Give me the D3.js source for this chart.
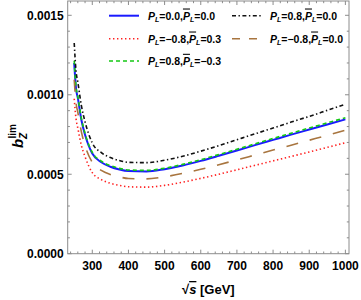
<!DOCTYPE html>
<html lang="en">
<head>
<meta charset="UTF-8">
<script src="https://cdn.jsdelivr.net/npm/d3@7"></script>
<style>
    body { margin: 0; background: white; }
    svg { display: block; font-family: "Liberation Sans", Arial, sans-serif; }
    .tick-label { font-size: 12px; font-weight: bold; fill: #000; }
    .leg { font-size: 10.5px; font-weight: bold; }
</style>
</head>
<body>
<div id="chart"></div>
<script>
    // sqrt(s) in GeV
    const energies = [250, 255, 260, 270, 280, 300, 325, 350, 375, 400, 450, 500, 550, 600, 650, 700, 750, 800, 850, 900, 950, 1000];

    // b_Z^lim for each beam polarisation
    const pol00   = [0.00120, 0.00104, 0.00098, 0.00084, 0.000748, 0.00063, 0.000575, 0.000547, 0.00053, 0.00052, 0.000517, 0.000532, 0.000555, 0.000584, 0.000616, 0.000649, 0.000683, 0.000716, 0.000749, 0.000781, 0.000813, 0.000845];
    const polM8P3 = [0.000975, 0.00085, 0.00079, 0.00068, 0.00061, 0.00051, 0.000466, 0.000443, 0.00043, 0.000421, 0.000419, 0.00043, 0.00045, 0.000474, 0.0005, 0.000528, 0.000556, 0.000584, 0.000612, 0.00064, 0.000669, 0.000698];
    const pol8M3  = [0.001215, 0.00105, 0.00099, 0.00085, 0.000757, 0.000638, 0.000582, 0.000554, 0.000537, 0.000527, 0.000524, 0.000538, 0.000562, 0.000591, 0.000624, 0.000657, 0.000691, 0.000725, 0.000758, 0.000791, 0.000823, 0.000856];
    const pol8P0  = [0.001326, 0.00115, 0.00108, 0.00093, 0.00083, 0.000697, 0.000636, 0.000605, 0.000586, 0.000575, 0.000573, 0.000588, 0.000613, 0.000645, 0.00068, 0.000717, 0.000754, 0.000791, 0.000828, 0.000864, 0.000902, 0.00094];
    const polM8P0 = [0.001095, 0.00095, 0.00089, 0.000765, 0.00068, 0.000575, 0.000524, 0.000498, 0.000483, 0.000473, 0.000471, 0.000484, 0.000505, 0.000531, 0.00056, 0.00059, 0.000621, 0.000652, 0.000683, 0.000714, 0.000745, 0.000777];

    const xTicks = [300, 400, 500, 600, 700, 800, 900, 1000];
    const yTicks = [0, 0.0005, 0.0010, 0.0015];

    const series = [
        { values: pol00,   pl: "0.0",  pbl: "0.0",  color: "#1a1aff", width: 2,   dash: null,          legDash: null,        col: 0, row: 0 },
        { values: polM8P3, pl: "\u22120.8", pbl: "0.3",  color: "#ff2020", width: 1.6, dash: "1.4,2.6",     legDash: "1.4,2.6",   col: 0, row: 1 },
        { values: pol8M3,  pl: "0.8",  pbl: "\u22120.3", color: "#14c814", width: 1.6, dash: "4,3",         legDash: "4,3",       col: 0, row: 2 },
        { values: pol8P0,  pl: "0.8",  pbl: "0.0",  color: "#111",    width: 1.6, dash: "4,2.5,1.4,2.5", legDash: "4,2.5,1.4,2.5", col: 1, row: 0 },
        { values: polM8P0, pl: "\u22120.8", pbl: "0.0",  color: "#a8753f", width: 1.6, dash: "12,12",       legDash: "8,9",       col: 1, row: 1 }
    ];

    const width = 361, height = 300;
    const margin = { top: 1, right: 12, bottom: 46.3, left: 67.7 };

    const svg = d3.select("#chart").append("svg")
        .attr("width", width)
        .attr("height", height);

    const x = d3.scaleLinear().domain([232, 1010]).range([margin.left, width - margin.right]);
    const y = d3.scaleLinear().domain([0, 0.00159]).range([height - margin.bottom, margin.top]);

    const x0 = x.range()[0], x1 = x.range()[1];
    const y0 = y.range()[0], y1 = y.range()[1];

    // ---- frame with inward ticks ----
    const frame = svg.append("g").attr("stroke", "#8c8c8c").attr("fill", "none");

    const xMinor = d3.range(240, 1010, 20);
    const yMinor = d3.range(0, 0.00159, 0.0001);

    xMinor.forEach(v => {
        const major = xTicks.includes(Math.round(v));
        const len = major ? 4 : 2.2;
        frame.append("line").attr("x1", x(v)).attr("x2", x(v)).attr("y1", y0).attr("y2", y0 - len);
        frame.append("line").attr("x1", x(v)).attr("x2", x(v)).attr("y1", y1).attr("y2", y1 + len);
    });
    yMinor.forEach((v, i) => {
        const major = i % 5 === 0;
        const len = major ? 4 : 2.2;
        frame.append("line").attr("x1", x0).attr("x2", x0 + len).attr("y1", y(v)).attr("y2", y(v));
        frame.append("line").attr("x1", x1).attr("x2", x1 - len).attr("y1", y(v)).attr("y2", y(v));
    });

    frame.append("rect")
        .attr("x", x0).attr("y", y1)
        .attr("width", x1 - x0).attr("height", y0 - y1)
        .attr("stroke-width", 1);

    // tick labels
    svg.selectAll(".xl").data(xTicks).enter().append("text")
        .attr("class", "tick-label")
        .attr("x", d => x(d))
        .attr("y", y0 + 16)
        .attr("text-anchor", "middle")
        .text(d => d);

    svg.selectAll(".yl").data(yTicks).enter().append("text")
        .attr("class", "tick-label")
        .attr("x", x0 - 4)
        .attr("y", d => y(d) + 4.3)
        .attr("text-anchor", "end")
        .text(d => d.toFixed(4));

    // ---- curves ----
    const line = d3.line()
        .x((d, i) => x(energies[i]))
        .y(d => y(d))
        .curve(d3.curveMonotoneX);

    series.forEach(s => {
        svg.append("path")
            .attr("d", line(s.values))
            .attr("fill", "none")
            .attr("stroke", s.color)
            .attr("stroke-width", s.width)
            .attr("stroke-dasharray", s.dash);
    });

    // ---- legend ----
    const legCols = [{ lx: 109, tx: 148 }, { lx: 232, tx: 270 }];
    const legRows = [15.7, 38.7, 61];

    series.forEach(s => {
        const c = legCols[s.col], ry = legRows[s.row];
        svg.append("line")
            .attr("x1", c.lx).attr("x2", c.lx + 30)
            .attr("y1", ry).attr("y2", ry)
            .attr("stroke", s.color)
            .attr("stroke-width", s.width)
            .attr("stroke-dasharray", s.legDash);

        const t = svg.append("text").attr("class", "leg").attr("x", c.tx).attr("y", ry + 3.8);
        t.append("tspan").attr("font-style", "italic").text("P");
        t.append("tspan").attr("font-style", "italic").attr("font-size", "7px").attr("dy", 2.5).text("L");
        t.append("tspan").attr("dy", -2.5).text("=" + s.pl + ",");
        t.append("tspan").attr("font-style", "italic").style("text-decoration", "overline").text("P");
        t.append("tspan").attr("font-style", "italic").attr("font-size", "7px").attr("dy", 2.5).text("L");
        t.append("tspan").attr("dy", -2.5).text("=" + s.pbl);
    });

    // ---- axis titles ----
    const yt = svg.append("g").attr("transform", "translate(23,148) rotate(-90)");
    yt.append("text").attr("font-size", "15px").attr("font-weight", "bold").attr("font-style", "italic").text("b");
    yt.append("text").attr("x", 9.5).attr("y", -7).attr("font-size", "10px").attr("font-weight", "bold").text("lim");
    yt.append("text").attr("x", 9).attr("y", 4).attr("font-size", "10px").attr("font-weight", "bold").attr("font-style", "italic").text("Z");

    const xt = svg.append("text")
        .attr("x", (x0 + x1) / 2)
        .attr("y", 294)
        .attr("text-anchor", "middle")
        .attr("font-size", "13px")
        .attr("font-weight", "bold");
    xt.append("tspan").text("\u221A");
    xt.append("tspan").attr("font-style", "italic").style("text-decoration", "overline").text("s");
    xt.append("tspan").text(" [GeV]");
</script>
</body>
</html>
